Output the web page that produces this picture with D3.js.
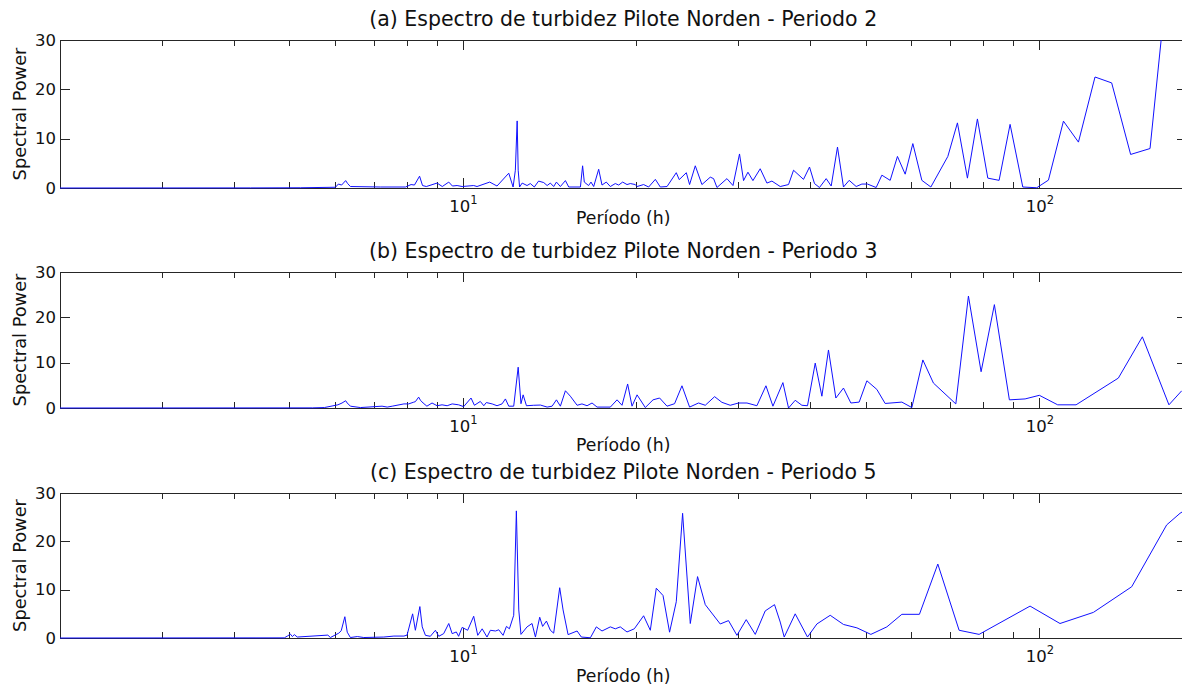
<!DOCTYPE html>
<html><head><meta charset="utf-8">
<script src="https://cdn.jsdelivr.net/npm/d3@7"></script>
<style>body{margin:0;background:#fff;overflow:hidden}svg{display:block}</style>
</head><body>
<svg id="chart" width="1182" height="687"></svg>
<script>
const titles = [
  "(a) Espectro de turbidez Pilote Norden - Periodo 2",
  "(b) Espectro de turbidez Pilote Norden - Periodo 3",
  "(c) Espectro de turbidez Pilote Norden - Periodo 5"
];
const xLabel = "Período (h)";
const yLabel = "Spectral Power";
const yTicks = [0, 10, 20, 30];
const xMajorTicks = [10, 100];
const xMajorBase = ["10", "10"];
const xMajorExp = ["1", "2"];
const xMinorTicks = [3, 4, 5, 6, 7, 8, 9, 20, 30, 40, 50, 60, 70, 80, 90];
const xDomain = [2, 180];
const yDomain = [0, 30];

const periodsA = [2.00,4.28,5.23,6.01,6.08,6.16,6.26,6.31,6.38,7.19,7.95,8.13,8.24,8.41,8.51,8.64,9.02,9.21,9.45,9.59,9.77,9.97,10.44,10.58,11.13,11.46,12.01,12.22,12.33,12.42,12.47,12.54,12.67,12.92,13.09,13.30,13.53,13.81,14.00,14.18,14.37,14.53,14.76,15.06,15.26,15.99,16.13,16.24,16.52,16.68,16.86,17.20,17.43,17.73,18.02,18.38,18.63,18.93,19.26,19.52,19.91,20.05,20.58,21.00,21.57,22.00,22.60,23.45,23.73,24.41,24.73,25.30,25.98,26.86,27.22,27.59,28.71,29.41,30.19,30.68,31.22,31.85,32.79,33.68,34.36,35.52,36.72,37.46,38.98,39.93,40.73,41.55,42.68,43.54,44.65,45.73,46.78,48.11,49.22,50.33,52.11,53.31,55.11,56.73,58.51,60.33,62.54,64.83,69.38,72.09,75.03,78.08,81.39,85.15,88.97,93.59,98.97,103.7,110.1,116.9,124.9,133.5,144.0,155.6,166.3];
const powerA = [0,0.02,0.05,0.15,0.8,0.6,1.5,0.9,0.3,0.2,0.2,0.7,0.6,2.4,0.5,0.3,1.0,0.3,1.2,0.4,0.5,0.3,0.5,0.3,1.2,0.4,3.0,0.2,3.6,13.6,3.6,0.2,1.0,0.5,0.9,0.2,1.4,1.1,0.5,1.0,0.3,1.2,0.3,1.5,0.2,0.2,4.5,1.2,0.5,1.2,0.3,3.8,0.6,1.2,0.3,0.9,0.6,1.2,0.7,0.9,0.7,0.3,0.7,0.2,1.75,0.2,0.3,3.1,1.7,3.1,0.7,4.5,0.7,2.2,1.9,0.1,1.9,0.5,6.9,1.5,3.2,1.5,3.9,1.0,1.4,0.3,0.7,3.6,1.75,4.25,0.9,0.1,1.9,0.4,8.3,0.2,1.55,0.3,0.8,0.8,0.1,2.6,1.55,6.4,2.8,9.0,1.55,0.2,6.4,13.2,2.0,14.0,2.0,1.55,12.9,0.2,0.05,1.6,13.55,9.3,22.5,21.3,6.8,8.0,41];

const periodsB = [2.00,5.48,5.75,6.07,6.17,6.26,6.30,6.38,6.64,7.24,7.39,7.54,7.90,8.05,8.20,8.27,8.38,8.44,8.53,8.66,8.84,9.02,9.20,9.39,9.58,9.83,10.03,10.33,10.47,10.72,10.87,10.98,11.24,11.46,11.69,11.85,12.01,12.25,12.47,12.61,12.72,12.89,13.27,13.63,14.00,14.28,14.53,14.76,15.06,15.36,15.78,16.09,16.42,16.75,17.09,18.02,18.51,18.88,19.31,19.65,20.05,20.72,21.37,21.94,22.60,23.29,23.99,24.73,25.63,26.33,27.33,28.14,29.09,30.07,31.10,32.36,33.55,34.50,35.90,36.72,37.71,38.73,39.61,40.85,41.95,43.07,44.36,45.73,47.10,48.69,50.21,52.25,54.01,57.74,60.09,62.79,65.50,71.63,75.33,79.24,83.56,88.72,94.46,100.0,107.6,115.8,137.1,150.9,167.8,176.6];
const powerB = [0,0.03,0.1,0.7,1.1,1.6,1.1,0.4,0.1,0.4,0.2,0.4,0.9,0.9,1.25,1.4,2.4,1.7,1.1,0.4,1.1,0.5,0.7,0.5,0.9,0.7,0.3,2.2,0.6,1.45,0.5,1.2,0.9,0.5,0.9,2.0,0.4,0.4,9.0,0.95,2.9,0.5,0.6,0.65,0.2,0.4,1.8,0.4,3.8,2.6,0.6,0.9,0.5,1.1,0.2,0.2,1.8,0.6,5.3,0.4,2.9,0.1,1.8,2.2,0.4,0.95,4.9,0.2,1.1,0.6,2.5,1.25,0.6,1.1,1.1,0.5,4.9,0.4,5.6,0.0,1.7,0.6,0.5,9.9,2.6,12.8,2.2,4.4,1.1,1.3,6.0,4.1,1.0,1.3,0.1,10.6,5.5,0.9,24.7,8.0,22.8,1.8,2.0,2.8,0.7,0.7,6.6,15.7,0.7,3.8];

const periodsC = [2.00,4.90,4.96,5.02,5.06,5.10,5.16,5.83,5.89,6.09,6.15,6.24,6.30,6.38,6.56,6.73,7.29,7.59,7.90,8.00,8.18,8.27,8.42,8.50,8.61,8.78,8.96,9.08,9.26,9.45,9.58,9.74,9.83,9.97,10.19,10.44,10.61,10.80,11.01,11.16,11.39,11.54,11.74,11.90,12.04,12.25,12.38,12.50,12.61,12.92,13.18,13.36,13.59,13.75,13.96,14.18,14.37,14.72,14.92,15.22,15.78,16.05,16.64,17.04,17.43,18.02,18.38,18.75,19.26,19.83,20.58,21.14,21.65,22.24,22.83,23.45,24.05,24.80,25.53,26.33,27.95,28.89,29.88,31.01,32.15,33.45,34.72,35.52,36.09,37.71,39.61,41.12,43.37,45.73,48.25,51.02,54.38,57.74,61.94,66.66,72.58,78.61,96.36,108.6,124.1,144.6,166.3,175.4,190];
const powerC = [0,0.03,0.4,0.8,0.3,0.7,0.2,0.6,0.1,1.0,1.5,4.4,1.2,0.1,0.3,0.1,0.2,0.4,0.4,0.6,5.0,1.6,6.5,2.3,0.55,0.35,1.6,0.35,0.9,3.0,0.9,1.25,0.35,2.2,1.6,4.5,0.55,1.9,0.2,1.6,1.45,1.7,0.55,2.4,1.9,4.7,26.3,5.8,0.75,2.3,3.0,0.2,4.3,2.4,3.5,1.6,1.0,10.4,5.8,0.7,1.45,0.2,0.05,2.3,1.45,2.3,1.9,2.3,1.25,1.9,4.6,1.6,10.3,8.8,1.2,7.5,25.8,3.0,12.7,6.9,2.9,3.6,0.55,3.8,0.75,5.6,6.9,3.3,0.2,5.0,0.2,2.9,4.7,2.8,2.1,0.75,2.3,4.9,4.9,15.3,1.6,0.75,6.6,3.0,5.3,10.6,23.4,25.8,28.4];

const series = [
  {periods: periodsA, power: powerA},
  {periods: periodsB, power: powerB},
  {periods: periodsC, power: powerC}
];

// layout (pixels)
const left = 60, right = 1186.5;
const layout = [
  {top: 40, bottom: 188, labelDy: 36},
  {top: 272, bottom: 408, labelDy: 43},
  {top: 493, bottom: 638, labelDy: 44}
];
const FONT = "'DejaVu Sans', Verdana, sans-serif";
const txtColor = "#111";
const axColor = "#262626";

const svg = d3.select("#chart");
const x = d3.scaleLog().domain(xDomain).range([left, right]);

series.forEach((s, i) => {
  const L = layout[i];
  const y = d3.scaleLinear().domain(yDomain).range([L.bottom, L.top]);
  const g = svg.append("g");
  const data = s.periods.map((p, k) => [p, s.power[k]]);

  g.append("clipPath").attr("id", "clip" + i)
    .append("rect").attr("x", left).attr("y", L.top).attr("width", right - left).attr("height", L.bottom - L.top + 1);

  const axStyle = sel => {
    sel.select(".domain").remove();
    sel.selectAll("line").attr("stroke", axColor).attr("shape-rendering", "crispEdges");
    sel.selectAll("text").attr("fill", txtColor).style("font-family", FONT).style("font-size", "16.5px");
  };

  // box
  g.append("rect").attr("x", left + 0.5).attr("y", L.top + 0.5)
    .attr("width", right - left).attr("height", L.bottom - L.top)
    .attr("fill", "none").attr("stroke", axColor).attr("stroke-width", 1);

  // x ticks bottom / top (inward)
  g.append("g").attr("transform", `translate(0,${L.bottom})`)
    .call(d3.axisBottom(x).tickValues(xMinorTicks).tickSize(-6).tickFormat("")).call(axStyle);
  g.append("g").attr("transform", `translate(0,${L.top})`)
    .call(d3.axisTop(x).tickValues(xMinorTicks).tickSize(-6).tickFormat("")).call(axStyle);
  g.append("g").attr("transform", `translate(0,${L.top})`)
    .call(d3.axisTop(x).tickValues(xMajorTicks).tickSize(-10).tickFormat("")).call(axStyle);
  const xb = g.append("g").attr("transform", `translate(0,${L.bottom})`)
    .call(d3.axisBottom(x).tickValues(xMajorTicks).tickSize(-10).tickFormat("")).call(axStyle);
  xb.selectAll(".tick").each(function(d, k) {
    const t = d3.select(this).append("text")
      .attr("y", 24).attr("text-anchor", "middle")
      .attr("fill", txtColor).style("font-family", FONT).style("font-size", "16.5px");
    t.append("tspan").text(xMajorBase[k]);
    t.append("tspan").attr("dy", -8).style("font-size", "11.5px").text(xMajorExp[k]);
  });

  // y ticks left / right (inward)
  g.append("g").attr("transform", `translate(${left},0)`)
    .call(d3.axisLeft(y).tickValues(yTicks).tickSize(-10).tickPadding(4)).call(axStyle);
  g.append("g").attr("transform", `translate(${right},0)`)
    .call(d3.axisRight(y).tickValues(yTicks).tickSize(-10).tickFormat("")).call(axStyle);

  // data line
  g.append("path").datum(data)
    .attr("clip-path", `url(#clip${i})`)
    .attr("fill", "none").attr("stroke", "#1010ff").attr("stroke-width", 1)
    .attr("stroke-linejoin", "round")
    .attr("d", d3.line().x(d => x(d[0])).y(d => y(d[1])));

  // title
  g.append("text").attr("x", (left + right) / 2).attr("y", L.top - 14)
    .attr("text-anchor", "middle").attr("fill", txtColor)
    .style("font-family", FONT).style("font-size", "20.5px").text(titles[i]);

  // x label
  g.append("text").attr("x", (left + right) / 2).attr("y", L.bottom + L.labelDy)
    .attr("text-anchor", "middle").attr("fill", txtColor)
    .style("font-family", FONT).style("font-size", "17.3px").text(xLabel);

  // y label
  g.append("text")
    .attr("transform", `translate(26,${(L.top + L.bottom) / 2}) rotate(-90)`)
    .attr("text-anchor", "middle").attr("fill", txtColor)
    .style("font-family", FONT).style("font-size", "17.8px").text(yLabel);
});
</script>
</body></html>
